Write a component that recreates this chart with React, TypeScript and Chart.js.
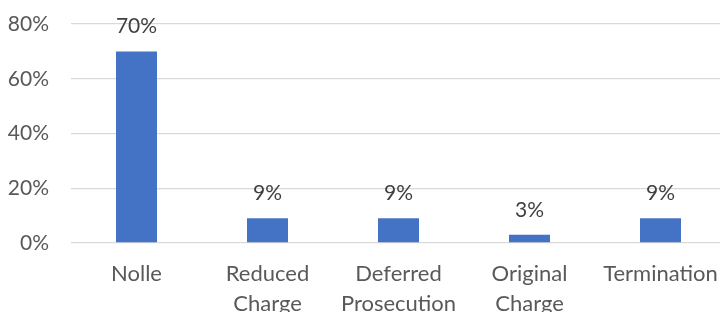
import React, { useEffect, useRef } from "react";
import { Chart, registerables } from "chart.js";

Chart.register(...registerables);

const categories: (string | string[])[] = [
  "Nolle",
  ["Reduced", "Charge"],
  ["Deferred", "Prosecution"],
  ["Original", "Charge"],
  "Termination",
];
const values: number[] = [70, 9, 9, 3, 9];
const yTicks: number[] = [0, 20, 40, 60, 80];

const FONT = "Lato, 'Noto Sans', sans-serif";

const labelPlugin = {
  id: "barLabels",
  afterDatasetsDraw(chart: any) {
    const ctx = chart.ctx;
    const meta = chart.getDatasetMeta(0);
    ctx.save();
    ctx.font = `21px ${FONT}`;
    ctx.fillStyle = "#404040";
    ctx.textAlign = "center";
    ctx.textBaseline = "middle";
    meta.data.forEach((bar: any, i: number) => {
      ctx.fillText(`${values[i]}%`, bar.x, bar.y - 25);
    });
    ctx.restore();
  },
};

export default function App() {
  const ref = useRef<HTMLCanvasElement>(null);
  useEffect(() => {
    if (!ref.current) return;
    const chart = new Chart(ref.current, {
      type: "bar",
      data: {
        labels: categories,
        datasets: [
          {
            data: values,
            backgroundColor: "#4472C4",
            borderWidth: 0,
            categoryPercentage: 1,
            barPercentage: 0.313,
          },
        ],
      },
      options: {
        animation: false,
        responsive: true,
        maintainAspectRatio: false,
        layout: { padding: { top: 24, left: 0, right: 0, bottom: 0 } },
        plugins: { legend: { display: false }, tooltip: { enabled: false } },
        scales: {
          x: {
            grid: { display: false, drawTicks: false },
            border: { display: false },
            ticks: {
              color: "#595959",
              font: { family: FONT, size: 22, lineHeight: 1.35 },
              padding: 16,
              maxRotation: 0,
              autoSkip: false,
            },
            afterFit: (s: any) => {
              s.height = 340 - 243;
              s.paddingLeft = 0;
              s.paddingRight = 0;
            },
          },
          y: {
            min: 0,
            max: 80,
            afterBuildTicks: (s: any) => {
              s.ticks = yTicks.map((v) => ({ value: v }));
            },
            grid: { color: "#D9D9D9", lineWidth: 1.3, drawTicks: false },
            border: { display: false },
            ticks: {
              color: "#595959",
              font: { family: FONT, size: 21 },
              padding: 22,
              callback: (v: any) => `${v}%`,
            },
            afterFit: (s: any) => {
              s.width = 71;
              s.paddingTop = 0;
              s.paddingBottom = 0;
            },
          },
        },
      },
      plugins: [labelPlugin],
    });
    return () => chart.destroy();
  }, []);
  return (
    <div
      style={{
        position: "fixed",
        left: 0,
        top: 0,
        width: 720,
        height: 312,
        overflow: "hidden",
        background: "#fff",
      }}
    >
      <div style={{ position: "relative", width: 726, height: 340 }}>
        <canvas ref={ref} />
      </div>
    </div>
  );
}
